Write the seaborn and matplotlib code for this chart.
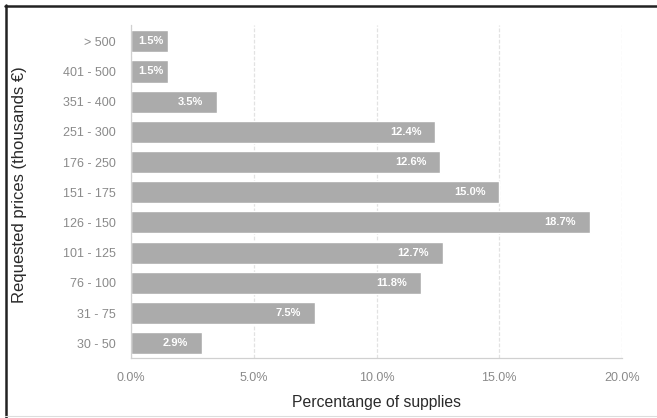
import matplotlib
matplotlib.use("Agg")
import matplotlib.pyplot as plt
from matplotlib.lines import Line2D
import seaborn as sns
import pandas as pd

price_ranges = ["> 500", "401 - 500", "351 - 400", "251 - 300", "176 - 250",
                "151 - 175", "126 - 150", "101 - 125", "76 - 100", "31 - 75", "30 - 50"]
share_pct = [1.5, 1.5, 3.5, 12.4, 12.6, 15.0, 18.7, 12.7, 11.8, 7.5, 2.9]
x_ticks = [0, 5, 10, 15, 20]

df = pd.DataFrame({"range": price_ranges, "share": share_pct})

sns.set_theme(style="white")
plt.rcParams["font.family"] = ["Liberation Sans", "DejaVu Sans"]

fig = plt.figure(figsize=(6.57, 4.18), dpi=100)
ax = fig.add_axes([131 / 657, 1 - 358 / 418, (622 - 131) / 657, (358 - 25) / 418])

sns.barplot(data=df, x="share", y="range", order=price_ranges, color="#ababab",
            saturation=1, width=0.73, ax=ax, zorder=2)

ax.set_xlim(0, 20)
ax.set_ylim(10.49, -0.54)
ax.set_xticks(x_ticks)
ax.set_xticklabels([f"{t:.1f}%" for t in x_ticks], color="#8a8a8a", fontsize=9)
ax.tick_params(axis="x", length=0, pad=10)
ax.tick_params(axis="y", length=0, pad=11, labelcolor="#8a8a8a", labelsize=9)

ax.grid(axis="x", color="#e2e2e2", linestyle=(0, (3, 1.5)), linewidth=0.9, zorder=0)
ax.set_axisbelow(True)
for side in ["top", "right"]:
    ax.spines[side].set_visible(False)
for side in ["left", "bottom"]:
    ax.spines[side].set_color("#d0d0d0")
    ax.spines[side].set_linewidth(0.9)

ax.set_xlabel("Percentange of supplies", fontsize=11.3, color="#2a2a2a", labelpad=8)
ax.set_ylabel("Requested prices (thousands \u20ac)", fontsize=12, color="#2a2a2a")
ax.yaxis.set_label_coords(-0.212, 0.52)

# value labels inside the bar ends
for i, v in enumerate(share_pct):
    text = f"{v:.1f}%"
    if v < 2.5:
        ax.annotate(text, xy=(0, i), xytext=(5, 0), textcoords="offset points",
                    ha="left", va="center", color="white", fontsize=8, fontweight="bold")
    else:
        ax.annotate(text, xy=(v, i), xytext=(-10, 0), textcoords="offset points",
                    ha="right", va="center", color="white", fontsize=8, fontweight="bold")

# outer frame
fig.add_artist(Line2D([5.5 / 657, 5.5 / 657], [0, 1 - 5 / 418], transform=fig.transFigure,
                      color="#222222", linewidth=1.8))
fig.add_artist(Line2D([5 / 657, 1], [1 - 6 / 418, 1 - 6 / 418], transform=fig.transFigure,
                      color="#222222", linewidth=1.8))
fig.add_artist(Line2D([5 / 657, 1], [2 / 418, 2 / 418], transform=fig.transFigure,
                      color="#dddddd", linewidth=0.8))

fig.savefig("out.png", dpi=100)
